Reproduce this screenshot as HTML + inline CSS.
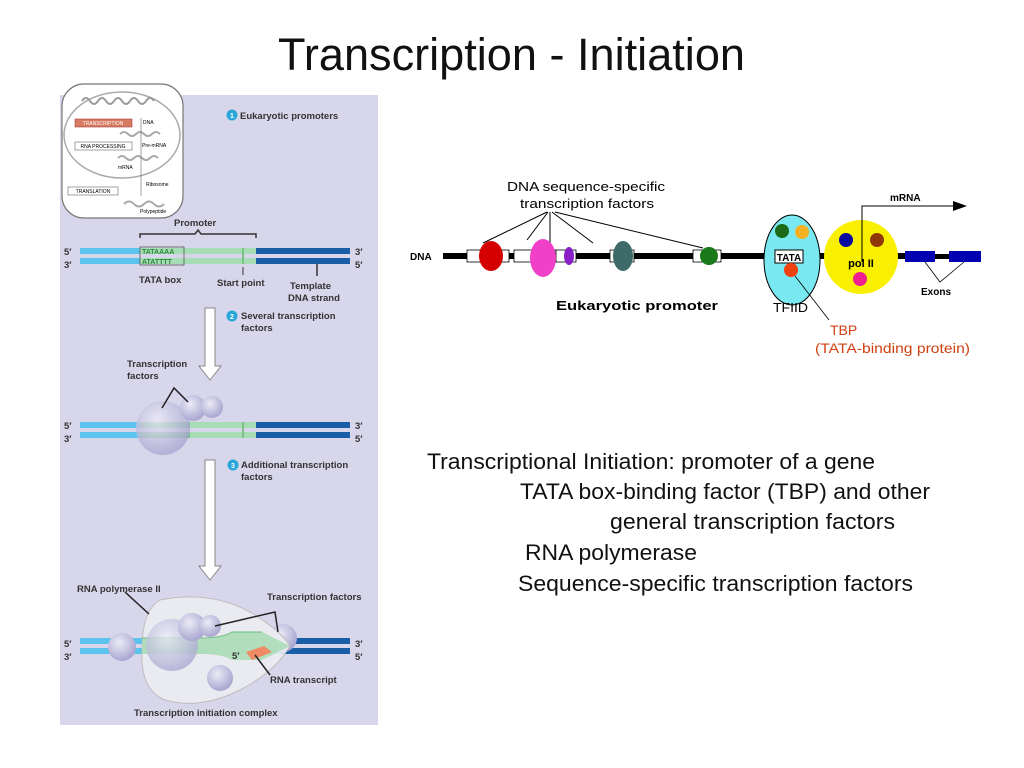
<!DOCTYPE html>
<html><head><meta charset="utf-8"><style>
html,body{margin:0;padding:0;background:#fff;width:1024px;height:768px;overflow:hidden}
svg{display:block}
</style></head><body>
<svg width="1024" height="768" viewBox="0 0 1024 768" xmlns="http://www.w3.org/2000/svg" font-family="Liberation Sans, sans-serif">
<defs>
<radialGradient id="ball" cx="40%" cy="35%" r="65%"><stop offset="0" stop-color="#ecebf7"/><stop offset="1" stop-color="#a9a6d0"/></radialGradient>
</defs>
<text x="278" y="70" font-size="45" textLength="467" lengthAdjust="spacingAndGlyphs" fill="#111">Transcription - Initiation</text>

<!-- left panel -->
<rect x="60" y="95" width="318" height="630" fill="#d8d6ea"/>
<rect x="62" y="84" width="121" height="134" rx="22" fill="#fff" stroke="#777" stroke-width="1.2"/>
<ellipse cx="122" cy="135" rx="58" ry="43" fill="none" stroke="#aaa" stroke-width="1.5"/>
<path d="M82 101 q4 -6 8 0 t8 0 t8 0 t8 0 t8 0 t8 0 t8 0 t8 0 t8 0" fill="none" stroke="#999" stroke-width="2"/>
<rect x="75" y="119" width="57" height="8" fill="#d67a62" stroke="#a44" stroke-width=".6"/>
<text x="103" y="125" font-size="5" text-anchor="middle" fill="#fff">TRANSCRIPTION</text>
<text x="143" y="124" font-size="5">DNA</text>
<path d="M120 134 q4 -4 8 0 t8 0 t8 0 t8 0 t8 0" fill="none" stroke="#aaa" stroke-width="2"/>
<rect x="75" y="142" width="57" height="8" fill="#fff" stroke="#666" stroke-width=".6"/>
<text x="103" y="148" font-size="5" text-anchor="middle">RNA PROCESSING</text>
<text x="142" y="147" font-size="5">Pre-mRNA</text>
<path d="M118 158 q4 -4 8 0 t8 0 t8 0 t8 0 t8 0" fill="none" stroke="#aaa" stroke-width="2"/>
<text x="118" y="169" font-size="5">mRNA</text>
<line x1="141" y1="118" x2="141" y2="196" stroke="#666" stroke-width=".6"/>
<rect x="68" y="187" width="50" height="8" fill="#fff" stroke="#666" stroke-width=".6"/>
<text x="93" y="193" font-size="5" text-anchor="middle">TRANSLATION</text>
<text x="146" y="186" font-size="5">Ribosome</text>
<path d="M124 204 q5 -5 10 0 t10 0 t10 0 t10 0" fill="none" stroke="#aaa" stroke-width="2"/>
<text x="140" y="213" font-size="5">Polypeptide</text>

<g font-weight="bold" fill="#333" font-size="9.5">
<circle cx="232" cy="115" r="5.5" fill="#2aa6d9"/><text x="232" y="118" font-size="7" fill="#fff" text-anchor="middle">1</text>
<text x="240" y="119">Eukaryotic promoters</text>
<text x="174" y="226">Promoter</text>
<path d="M140 238 v-4 h55 l3 -4 l3 4 h55 v4" fill="none" stroke="#333" stroke-width="1.5"/>
</g>
<g>
<rect x="80" y="248" width="60" height="6" fill="#5bc3ec"/><rect x="80" y="258" width="60" height="6" fill="#5bc3ec"/>
<rect x="140" y="248" width="116" height="6" fill="#a8dcb4"/><rect x="140" y="258" width="116" height="6" fill="#a8dcb4"/>
<rect x="256" y="248" width="94" height="6" fill="#1a5ea8"/><rect x="256" y="258" width="94" height="6" fill="#1a5ea8"/>
<rect x="242" y="248" width="2" height="16" fill="#7fbf8a"/>
</g>
<rect x="140" y="247" width="44" height="18" fill="none" stroke="#555" stroke-width=".8"/>
<text x="142" y="254" font-size="7" fill="#2a8a3a" font-weight="bold">TATAAAA</text>
<text x="142" y="264" font-size="7" fill="#2a8a3a" font-weight="bold">ATATTTT</text>
<g font-weight="bold" fill="#333" font-size="9.5">
<text x="64" y="255">5′</text><text x="64" y="268">3′</text>
<text x="355" y="255">3′</text><text x="355" y="268">5′</text>
<text x="139" y="283">TATA box</text>
<text x="217" y="286">Start point</text>
<text x="290" y="289">Template</text><text x="288" y="301">DNA strand</text>
<line x1="317" y1="264" x2="317" y2="276" stroke="#333" stroke-width="1.5"/>
<line x1="243" y1="267" x2="243" y2="275" stroke="#333" stroke-width="1"/>
<circle cx="232" cy="316" r="5.5" fill="#2aa6d9"/><text x="232" y="319" font-size="7" fill="#fff" text-anchor="middle">2</text>
<text x="241" y="319">Several transcription</text><text x="241" y="331">factors</text>
<text x="127" y="367">Transcription</text><text x="127" y="379">factors</text>
</g>
<path d="M205 308 h10 v58 h6 l-11 14 l-11 -14 h6 z" fill="#fff" stroke="#888"/>

<g transform="translate(0,174)">
<rect x="80" y="248" width="60" height="6" fill="#5bc3ec"/><rect x="80" y="258" width="60" height="6" fill="#5bc3ec"/>
<rect x="140" y="248" width="116" height="6" fill="#a8dcb4"/><rect x="140" y="258" width="116" height="6" fill="#a8dcb4"/>
<rect x="140" y="248" width="50" height="6" fill="#6fbf80"/><rect x="140" y="258" width="50" height="6" fill="#6fbf80"/>
<rect x="256" y="248" width="94" height="6" fill="#1a5ea8"/><rect x="256" y="258" width="94" height="6" fill="#1a5ea8"/>
<rect x="242" y="248" width="2" height="16" fill="#7fbf8a"/>
</g>
<circle cx="163" cy="428" r="27" fill="url(#ball)" opacity=".8"/>
<circle cx="193" cy="408" r="13" fill="url(#ball)"/>
<circle cx="212" cy="407" r="11" fill="url(#ball)"/>
<path d="M162 408 l12 -20 l14 14" fill="none" stroke="#222" stroke-width="1.5"/>
<g font-weight="bold" fill="#333" font-size="9.5">
<text x="64" y="429">5′</text><text x="64" y="442">3′</text>
<text x="355" y="429">3′</text><text x="355" y="442">5′</text>
<circle cx="233" cy="465" r="5.5" fill="#2aa6d9"/><text x="233" y="468" font-size="7" fill="#fff" text-anchor="middle">3</text>
<text x="241" y="468">Additional transcription</text><text x="241" y="480">factors</text>
<text x="77" y="592">RNA polymerase II</text>
<text x="267" y="600">Transcription factors</text>
<text x="270" y="683">RNA transcript</text>
<text x="134" y="716">Transcription initiation complex</text>
</g>
<path d="M205 460 h10 v106 h6 l-11 14 l-11 -14 h6 z" fill="#fff" stroke="#888"/>

<rect x="80" y="638" width="220" height="6" fill="#5bc3ec"/><rect x="80" y="648" width="220" height="6" fill="#5bc3ec"/>
<rect x="280" y="638" width="70" height="6" fill="#1a5ea8"/><rect x="280" y="648" width="70" height="6" fill="#1a5ea8"/>
<circle cx="283" cy="638" r="14" fill="url(#ball)"/>
<circle cx="122" cy="647" r="14" fill="url(#ball)"/>
<path d="M160 600 Q210 590 250 612 Q280 630 290 646 Q275 672 240 690 Q200 710 165 700 Q140 690 142 650 Q142 610 160 600 Z" fill="#ededf2" opacity=".9" stroke="#bbb"/>
<path d="M142 638 h60 q20 0 30 -6 h30 l28 14 l-28 14 h-30 q-10 -6 -30 -6 h-60" fill="#a8dcb4" opacity=".85"/>
<path d="M142 638 h60 q20 0 30 -6 h30" fill="none" stroke="#6fbf80"/>
<circle cx="172" cy="645" r="26" fill="url(#ball)" opacity=".75"/>
<circle cx="192" cy="627" r="14" fill="url(#ball)"/>
<circle cx="210" cy="626" r="11" fill="url(#ball)"/>
<circle cx="220" cy="678" r="13" fill="url(#ball)"/>
<path d="M246 652 l18 -6 l8 6 l-20 8 z" fill="#f08a64"/>
<text x="232" y="659" font-size="9.5" font-weight="bold" fill="#333">5′</text>
<path d="M125 592 l24 22" stroke="#222" stroke-width="1.5"/>
<path d="M215 626 l60 -14 l3 20" fill="none" stroke="#222" stroke-width="1.5"/>
<path d="M255 655 l15 20" stroke="#222" stroke-width="1.5"/>
<g font-weight="bold" fill="#333" font-size="9.5">
<text x="64" y="647">5′</text><text x="64" y="660">3′</text>
<text x="355" y="647">3′</text><text x="355" y="660">5′</text>
</g>

<!-- right diagram -->
<text x="507" y="191" font-size="13" textLength="158" lengthAdjust="spacingAndGlyphs">DNA sequence-specific</text>
<text x="520" y="208" font-size="13" textLength="134" lengthAdjust="spacingAndGlyphs">transcription factors</text>
<g stroke="#000" stroke-width="1" fill="none">
<line x1="547" y1="212" x2="483" y2="243"/><line x1="548" y1="212" x2="527" y2="240"/><line x1="550" y1="212" x2="550" y2="247"/><line x1="552" y1="212" x2="593" y2="243"/><line x1="555" y1="212" x2="703" y2="248"/>
</g>
<text x="410" y="260" font-size="10" font-weight="bold">DNA</text>
<rect x="443" y="253" width="462" height="6" fill="#000"/>
<rect x="905" y="251" width="30" height="11" fill="#0000b0"/><rect x="935" y="254" width="14" height="5" fill="#000"/><rect x="949" y="251" width="32" height="11" fill="#0000b0"/>
<g fill="#fff" stroke="#000" stroke-width=".8">
<rect x="467" y="250" width="42" height="12"/><rect x="514" y="250" width="42" height="12"/><rect x="556" y="250" width="20" height="12"/><rect x="610" y="250" width="24" height="12"/><rect x="693" y="250" width="28" height="12"/>
</g>
<ellipse cx="491" cy="256" rx="12" ry="15" fill="#d40000"/>
<ellipse cx="543" cy="258" rx="13" ry="19" fill="#f040c8"/>
<ellipse cx="569" cy="256" rx="5" ry="9" fill="#8a20c8"/>
<ellipse cx="623" cy="256" rx="10" ry="15" fill="#3e6a6a"/>
<circle cx="709" cy="256" r="9" fill="#1a7a1a"/>
<text x="556" y="310" font-size="13" font-weight="bold" textLength="162" lengthAdjust="spacingAndGlyphs">Eukaryotic promoter</text>
<ellipse cx="792" cy="260" rx="28" ry="45" fill="#7ae8f0" stroke="#000" stroke-width="1"/>
<circle cx="782" cy="231" r="7" fill="#1a6a1a"/><circle cx="802" cy="232" r="7" fill="#f4b020"/>
<rect x="775" y="250" width="28" height="13" fill="#fff" stroke="#000"/>
<text x="789" y="261" font-size="10" font-weight="bold" text-anchor="middle">TATA</text>
<circle cx="791" cy="270" r="7" fill="#f04010"/>
<line x1="795" y1="276" x2="829" y2="320" stroke="#000" stroke-width=".8"/>
<text x="773" y="312" font-size="13" textLength="35" lengthAdjust="spacingAndGlyphs">TFIID</text>
<text x="830" y="335" font-size="14" fill="#d04010">TBP</text>
<text x="815" y="353" font-size="14" fill="#d04010" textLength="155" lengthAdjust="spacingAndGlyphs">(TATA-binding protein)</text>
<circle cx="861" cy="257" r="37" fill="#f8f000"/>
<circle cx="846" cy="240" r="7" fill="#0808a0"/><circle cx="877" cy="240" r="7" fill="#903808"/><circle cx="860" cy="279" r="7" fill="#f02090"/>
<text x="861" y="267" font-size="11" font-weight="bold" text-anchor="middle">pol II</text>
<path d="M862 262 V206 H955" fill="none" stroke="#000" stroke-width="1"/>
<path d="M953 201 l14 5 l-14 5 z" fill="#000"/>
<text x="890" y="201" font-size="10" font-weight="bold">mRNA</text>
<path d="M925 262 l15 20 l24 -20" fill="none" stroke="#000" stroke-width=".8"/>
<text x="921" y="295" font-size="10" font-weight="bold">Exons</text>

<g font-size="22" fill="#111" lengthAdjust="spacingAndGlyphs">
<text x="427" y="469" textLength="448" lengthAdjust="spacingAndGlyphs">Transcriptional Initiation: promoter of a gene</text>
<text x="520" y="499" textLength="410" lengthAdjust="spacingAndGlyphs">TATA box-binding factor (TBP) and other</text>
<text x="610" y="529" textLength="285" lengthAdjust="spacingAndGlyphs">general transcription factors</text>
<text x="525" y="560" textLength="172" lengthAdjust="spacingAndGlyphs">RNA polymerase</text>
<text x="518" y="591" textLength="395" lengthAdjust="spacingAndGlyphs">Sequence-specific transcription factors</text>
</g>
</svg>
</body></html>
